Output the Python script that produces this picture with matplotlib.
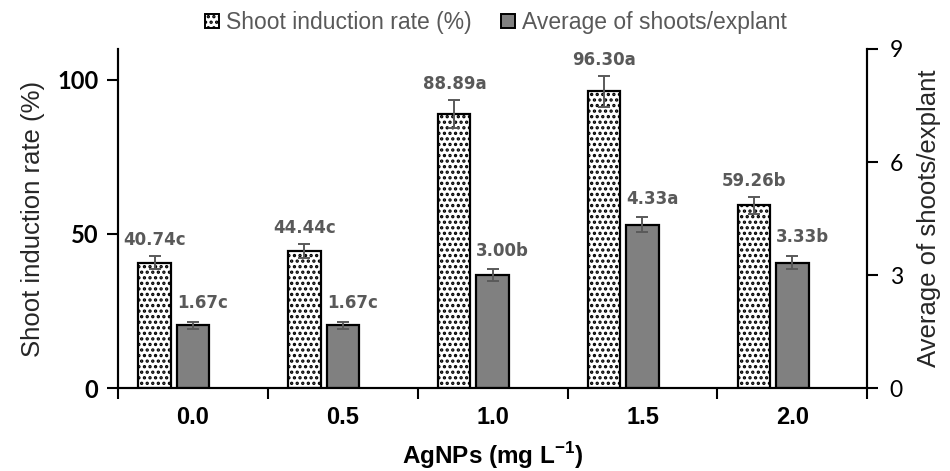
import numpy as np
import matplotlib
matplotlib.use("Agg")
import matplotlib.pyplot as plt
from matplotlib.patches import Patch

# data
doses = ["0.0", "0.5", "1.0", "1.5", "2.0"]
rate = [40.74, 44.44, 88.89, 96.30, 59.26]
rate_err = [2.2, 2.2, 4.5, 5.0, 2.8]
rate_lbl = ["40.74c", "44.44c", "88.89a", "96.30a", "59.26b"]
shoots = [1.67, 1.67, 3.00, 4.33, 3.33]
shoots_err = [0.09, 0.09, 0.15, 0.2, 0.18]
shoots_lbl = ["1.67c", "1.67c", "3.00b", "4.33a", "3.33b"]

plt.rcParams['hatch.linewidth'] = 1.6
plt.rcParams['mathtext.fontset'] = 'custom'
plt.rcParams['mathtext.rm'] = 'Liberation Sans'
plt.rcParams['mathtext.bf'] = 'Liberation Sans:bold'
lab_col = '#595959'
num_font = 'Lato'
txt_font = 'Liberation Sans'

fig = plt.figure(figsize=(9.5, 4.71), dpi=100)
ax = fig.add_axes([0.124, 0.176, 0.789, 0.72])
ax2 = ax.twinx()

x = np.arange(len(doses)) + 0.5
w = 0.215

ax.bar(x - 0.255, rate, width=w, facecolor='white', edgecolor='black',
       hatch='...', linewidth=1.6, zorder=2)
ax.errorbar(x - 0.255, rate, yerr=rate_err, fmt='none', ecolor=lab_col,
            capsize=4, elinewidth=1.4, capthick=1.4, zorder=3)
ax2.bar(x, shoots, width=w, facecolor='#808080', edgecolor='black',
        linewidth=1.6, zorder=2)
ax2.errorbar(x, shoots, yerr=shoots_err, fmt='none', ecolor=lab_col,
             capsize=4, elinewidth=1.4, capthick=1.4, zorder=3)

for xi, v, e, s in zip(x - 0.255, rate, rate_err, rate_lbl):
    ax.annotate(s, (xi, v + e), xytext=(0, 5), textcoords='offset points',
                ha='center', va='bottom', fontsize=12, fontweight='bold',
                color=lab_col, family='DejaVu Sans')
for xi, v, e, s in zip(x, shoots, shoots_err, shoots_lbl):
    ax2.annotate(s, (xi, v + e), xytext=(7, 7), textcoords='offset points',
                 ha='center', va='bottom', fontsize=12, fontweight='bold',
                 color=lab_col, family='DejaVu Sans')

ax.set_xlim(0, 5)
ax.set_ylim(0, 110)
ax2.set_ylim(0, 9)
ax.set_yticks([0, 50, 100])
ax2.set_yticks([0, 3, 6, 9])

# category boundaries get tick marks, labels sit in between
ax.set_xticks(np.arange(0, 6))
ax.set_xticklabels([])
ax.set_xticks(x, minor=True)
ax.set_xticklabels(doses, minor=True)
ax.tick_params(axis='x', which='major', direction='out', length=8, width=1.5)
ax.tick_params(axis='x', which='minor', length=0, pad=13, labelsize=17)
ax.tick_params(axis='y', direction='out', length=8, width=1.5, labelsize=17, pad=6)
ax2.tick_params(axis='y', direction='out', length=8, width=1.5, labelsize=16.5, pad=8)

for lbl in ax.get_xticklabels(minor=True):
    lbl.set_fontweight('bold')
    lbl.set_family(txt_font)
for lbl in ax.get_yticklabels():
    lbl.set_fontweight('bold')
    lbl.set_family(num_font)
for lbl in ax2.get_yticklabels():
    lbl.set_family(num_font)

for a in (ax, ax2):
    a.spines['top'].set_visible(False)
    for sp in ('left', 'right', 'bottom'):
        a.spines[sp].set_linewidth(1.5)

ax.set_xlabel('AgNPs (mg L$^{\\mathbf{-1}}$)', fontsize=17.5, fontweight='bold',
              family=txt_font, labelpad=8)
ax.set_ylabel('Shoot induction rate (%)', fontsize=18.5, family=txt_font,
              color='#262626', labelpad=9)
ax2.set_ylabel('Average of shoots/explant', fontsize=18.5, family=txt_font,
               color='#262626', labelpad=10)

handles = [Patch(facecolor='white', edgecolor='black', hatch='...', linewidth=1.4),
           Patch(facecolor='#808080', edgecolor='black', linewidth=1.4)]
leg = fig.legend(handles, ['Shoot induction rate (%)', 'Average of shoots/explant'],
                 loc='upper center', bbox_to_anchor=(0.522, 1.02), ncol=2,
                 frameon=False, handlelength=0.6, handleheight=0.6,
                 handletextpad=0.3, columnspacing=1.3,
                 prop={'family': txt_font, 'size': 16.5})
for t in leg.get_texts():
    t.set_color(lab_col)

fig.savefig('out.png', dpi=100)
